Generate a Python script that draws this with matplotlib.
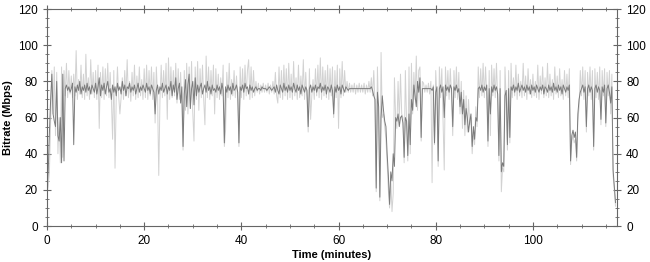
import numpy as np
import matplotlib
matplotlib.use("Agg")
import matplotlib.pyplot as plt
from matplotlib.ticker import MultipleLocator

# Bitrate samples every 0.25 minute
# (one row = 5 minutes)
# dark series: smoothed bitrate
bitrate_dark = [
    20, 30, 52, 70, 84, 62, 58, 55, 80, 50, 47, 60, 35, 84, 36, 76, 78, 75, 77, 74,
    76, 79, 45, 77, 74, 78, 75, 80, 73, 77, 75, 78, 74, 79, 75, 77, 73, 78, 76, 74,
    79, 73, 77, 82, 72, 78, 75, 79, 73, 77, 80, 74, 76, 70, 78, 74, 77, 72, 79, 75,
    77, 73, 80, 75, 78, 72, 77, 76, 79, 74, 77, 75, 78, 73, 76, 79, 74, 77, 75, 78,
    76, 74, 79, 75, 77, 73, 78, 76, 74, 62, 75, 78, 73, 77, 75, 79, 74, 76, 78, 73,
    77, 75, 80, 72, 78, 74, 82, 70, 76, 79, 68, 77, 44, 73, 81, 66, 78, 84, 65, 76,
    80, 67, 82, 72, 78, 74, 77, 79, 73, 76, 78, 74, 80, 75, 77, 73, 78, 75, 76, 74,
    78, 75, 77, 73, 79, 75, 46, 77, 74, 78, 75, 77, 73, 79, 75, 76, 78, 74, 46, 77,
    75, 78, 74, 79, 76, 77, 73, 78, 75, 77, 74, 76, 77, 75, 76, 76, 75, 77, 76, 76,
    76, 75, 76, 77, 76, 75, 76, 77, 74, 78, 75, 73, 78, 76, 74, 79, 75, 77, 74, 78,
    75, 77, 74, 79, 76, 74, 78, 75, 77, 73, 78, 76, 74, 77, 75, 55, 76, 78, 74, 77,
    75, 78, 74, 77, 76, 79, 74, 77, 75, 78, 73, 77, 76, 74, 78, 75, 62, 77, 74, 78,
    75, 77, 73, 78, 76, 74, 77, 76, 75, 76, 76, 76, 76, 76, 76, 76, 76, 76, 76, 76,
    76, 76, 76, 76, 76, 76, 76, 77, 75, 72, 70, 21, 74, 66, 16, 60, 72, 64, 58, 55,
    40, 28, 12, 30, 25, 40, 33, 60, 58, 62, 55, 60, 61, 57, 38, 60, 58, 39, 62, 45,
    70, 64, 78, 72, 66, 80, 74, 82, 49, 76, 76, 76, 76, 76, 76, 76, 76, 75, 77, 46,
    74, 77, 36, 76, 78, 74, 77, 60, 78, 75, 77, 74, 78, 76, 55, 77, 75, 78, 74, 76,
    66, 74, 62, 70, 56, 65, 60, 52, 58, 62, 44, 55, 48, 60, 58, 76, 77, 75, 78, 74,
    77, 75, 78, 47, 76, 62, 77, 74, 78, 75, 77, 73, 39, 76, 30, 35, 33, 72, 75, 45,
    76, 49, 77, 75, 78, 74, 77, 75, 79, 74, 76, 78, 75, 77, 74, 78, 75, 77, 73, 78,
    75, 77, 74, 78, 76, 74, 77, 75, 78, 73, 77, 76, 74, 78, 75, 77, 74, 79, 75, 77,
    74, 78, 75, 77, 73, 78, 76, 74, 77, 75, 78, 36, 50, 53, 49, 52, 38, 62, 70, 74,
    76, 78, 74, 77, 55, 76, 78, 74, 77, 75, 44, 76, 78, 74, 77, 75, 59, 77, 74, 78,
    57, 76, 78, 74, 68, 77, 31, 22, 13,
]

# light series: raw bitrate
bitrate_light = [
    18, 22, 30, 58, 86, 62, 88, 50, 85, 40, 60, 35, 88, 38, 86, 72, 90, 71, 86, 73,
    83, 71, 84, 72, 97, 70, 81, 73, 89, 71, 84, 70, 95, 72, 82, 70, 92, 73, 85, 71,
    86, 70, 89, 54, 85, 71, 88, 70, 87, 72, 90, 71, 85, 70, 48, 86, 32, 71, 88, 72,
    62, 71, 82, 70, 86, 72, 92, 71, 80, 69, 85, 72, 89, 70, 83, 71, 88, 72, 81, 70,
    87, 71, 89, 70, 86, 72, 88, 70, 85, 57, 88, 72, 28, 70, 89, 71, 86, 72, 90, 59,
    93, 70, 88, 71, 86, 72, 90, 68, 87, 70, 85, 66, 42, 86, 64, 90, 62, 88, 65, 91,
    63, 47, 88, 70, 91, 64, 87, 71, 89, 70, 56, 94, 71, 88, 70, 86, 72, 89, 62, 87,
    71, 84, 70, 82, 72, 89, 44, 53, 85, 71, 90, 70, 81, 72, 86, 71, 83, 70, 44, 88,
    71, 87, 70, 89, 72, 86, 92, 70, 88, 71, 86, 72, 80, 74, 79, 73, 78, 74, 79, 74,
    78, 74, 79, 73, 78, 74, 80, 73, 85, 72, 68, 88, 71, 86, 70, 89, 72, 87, 70, 90,
    71, 84, 70, 91, 72, 82, 70, 89, 71, 83, 72, 92, 70, 85, 71, 52, 87, 59, 72, 81,
    70, 87, 72, 89, 71, 93, 70, 88, 72, 86, 71, 89, 70, 87, 72, 88, 60, 86, 71, 89,
    54, 87, 71, 91, 72, 86, 74, 80, 74, 79, 74, 78, 74, 79, 73, 78, 74, 79, 74, 78,
    74, 79, 73, 78, 74, 80, 74, 82, 72, 86, 68, 19, 88, 60, 14, 96, 60, 62, 55, 48,
    35, 20, 10, 26, 8, 18, 82, 60, 54, 80, 58, 84, 62, 60, 35, 86, 58, 36, 88, 40,
    90, 62, 85, 70, 94, 64, 86, 88, 47, 80, 79, 74, 78, 74, 79, 73, 80, 24, 78, 45,
    86, 70, 33, 88, 71, 87, 60, 31, 88, 72, 86, 70, 87, 72, 50, 86, 71, 88, 70, 85,
    62, 80, 54, 75, 50, 72, 52, 70, 56, 60, 40, 52, 45, 66, 55, 88, 71, 87, 72, 90,
    71, 88, 72, 44, 86, 50, 89, 72, 87, 71, 90, 70, 36, 86, 19, 32, 30, 88, 70, 42,
    86, 46, 90, 71, 82, 72, 89, 70, 84, 72, 80, 71, 90, 72, 83, 70, 87, 73, 81, 71,
    84, 72, 80, 71, 89, 70, 83, 73, 88, 71, 82, 72, 90, 71, 84, 72, 81, 70, 88, 73,
    83, 71, 87, 72, 81, 70, 86, 72, 84, 71, 87, 34, 47, 50, 46, 48, 36, 58, 66, 86,
    72, 88, 70, 86, 52, 85, 72, 88, 70, 86, 42, 87, 71, 85, 70, 88, 56, 86, 72, 87,
    55, 85, 72, 86, 62, 84, 28, 20, 11,
]

time_step = 0.25  # minutes between samples
yticks = [0, 20, 40, 60, 80, 100, 120]

plt.rcParams['font.family'] = ['Liberation Sans', 'DejaVu Sans']

minutes = np.arange(len(bitrate_dark)) * time_step

fig = plt.figure(figsize=(6.5, 2.62), dpi=100)
ax = fig.add_axes([0.0723, 0.137, 0.8769, 0.8286])

ax.plot(minutes, bitrate_light, color='#d2d2d2', lw=0.7)
ax.plot(minutes, bitrate_dark, color='#7c7c7c', lw=0.7)

ax.set_xlim(0, 117.3)
ax.set_ylim(0, 120)
ax.set_yticks(yticks)
ax.xaxis.set_major_locator(MultipleLocator(20))
ax.xaxis.set_minor_locator(MultipleLocator(5))
ax.yaxis.set_minor_locator(MultipleLocator(5))

for side in ax.spines.values():
    side.set_color('#666666')
    side.set_linewidth(0.8)

ax.tick_params(which='major', direction='inout', length=6, width=0.8,
               color='#666666', labelsize=8.5, top=True, right=True,
               labelright=True)
ax.tick_params(which='minor', direction='inout', length=3, width=0.6,
               color='#666666', top=True, right=True)

ax.set_xlabel('Time (minutes)', fontsize=8, fontweight='bold', labelpad=2)
ax.set_ylabel('Bitrate (Mbps)', fontsize=8, fontweight='bold', labelpad=4)

fig.savefig('out.png', dpi=100)
